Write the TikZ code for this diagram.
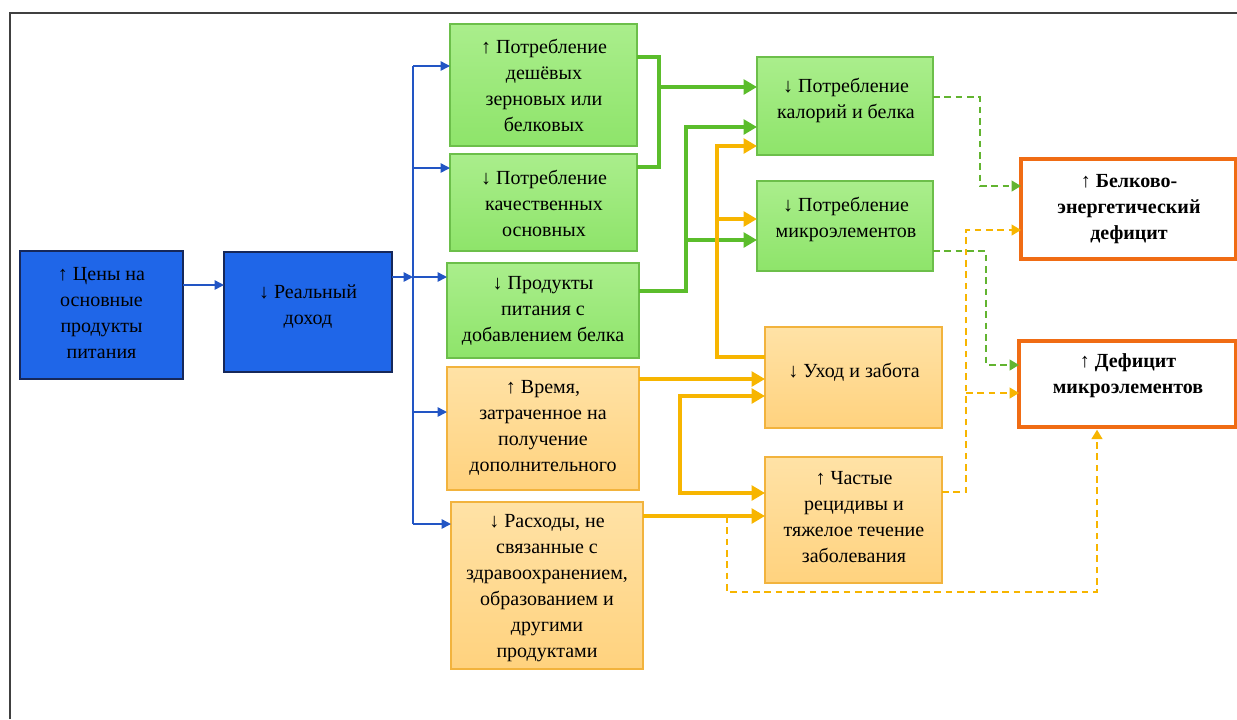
\documentclass[tikz,border=0pt]{standalone}
\usepackage{fontspec}
\setmainfont{Liberation Serif}
\newfontfamily\lserif{Liberation Serif}
\usetikzlibrary{arrows.meta,fit}
\definecolor{bfill}{HTML}{1F66E8}
\definecolor{bdraw}{HTML}{16285A}
\definecolor{bline}{HTML}{2255C4}
\definecolor{gtop}{HTML}{AAEE8C}
\definecolor{gbot}{HTML}{8EE46A}
\definecolor{gdraw}{HTML}{6CBF4A}
\definecolor{gline}{HTML}{5BBD2B}
\definecolor{otop}{HTML}{FFE2A6}
\definecolor{obot}{HTML}{FFD27E}
\definecolor{odraw}{HTML}{F2B33D}
\definecolor{oline}{HTML}{F7B500}
\definecolor{rdraw}{HTML}{F06C14}
\definecolor{gdash}{HTML}{62B430}
\tikzset{
  boxbase/.style={inner sep=0pt, outer sep=0pt},
  bluebox/.style={boxbase, draw=bdraw, line width=1.5pt, fill=bfill},
  greenbox/.style={boxbase, draw=gdraw, line width=0.8pt, top color=gtop, bottom color=gbot},
  orangebox/.style={boxbase, draw=odraw, line width=0.8pt, top color=otop, bottom color=obot},
  redbox/.style={boxbase, draw=rdraw, line width=3pt, fill=white},
  txt/.style={align=center, inner sep=0pt, font=\lserif\fontsize{15}{19.5}\selectfont},
  btxt/.style={txt, font=\lserif\fontsize{15}{19.5}\selectfont\bfseries},
  bluearrow/.style={draw=bline, line width=1.1pt, -{Triangle[length=7pt,width=7pt]}},
  bluebus/.style={draw=bline, line width=1.1pt},
  greenline/.style={draw=gline, line width=3.5pt},
  greenarrow/.style={greenline, -{Triangle[length=10pt,width=11pt]}},
  orangeline/.style={draw=oline, line width=3.5pt},
  orangearrow/.style={orangeline, -{Triangle[length=10pt,width=11pt]}},
  gdashed/.style={draw=gdash, line width=1.4pt, dash pattern=on 5pt off 3.5pt, -{Triangle[length=7pt,width=8pt]}},
  odashed/.style={draw=oline, line width=1.4pt, dash pattern=on 5pt off 3.5pt, -{Triangle[length=7pt,width=8pt]}},
}
\begin{document}
\begin{tikzpicture}[x=0.75pt, y=-0.75pt]
\useasboundingbox (0,0) rectangle (1237,719);
% frame
\coordinate (fbl) at (10,719);
\coordinate (ftl) at (10,13);
\coordinate (ftr) at (1237,13);
\draw[black!75, line width=0.9pt] (fbl) -- (ftl) -- (ftr);

% boxes
\node[bluebox, fit={(20,251) (183,379)}] (c1) {};
\node[bluebox, fit={(224,252) (392,372)}] (rd) {};
\node[greenbox, fit={(450,24) (637,146)}] (g1) {};
\node[greenbox, fit={(450,154) (637,251)}] (g2) {};
\node[greenbox, fit={(447,263) (639,358)}] (g3) {};
\node[orangebox, fit={(447,367) (639,490)}] (o4) {};
\node[orangebox, fit={(451,502) (643,669)}] (o5) {};
\node[greenbox, fit={(757,57) (933,155)}] (m1) {};
\node[greenbox, fit={(757,181) (933,271)}] (m2) {};
\node[orangebox, fit={(765,327) (942,428)}] (m3) {};
\node[orangebox, fit={(765,457) (942,583)}] (m4) {};
\node[redbox, fit={(1021,159) (1236,259)}] (r1) {};
\node[redbox, fit={(1019,341) (1236,427)}] (r2) {};

% texts
\node[txt] (tc1) at (101.5,313) {↑ Цены на\\основные\\продукты\\питания};
\node[txt] (trd) at (308,307) {↓ Реальный\\доход};
\node[txt] (tg1) at (544,85) {↑ Потребление\\дешёвых\\зерновых или\\белковых};
\node[txt] (tg2) at (544,203) {↓ Потребление\\качественных\\основных};
\node[txt] (tg3) at (543,311) {↓ Продукты\\питания с\\добавлением белка};
\node[txt] (to4) at (543,428) {↑ Время,\\затраченное на\\получение\\дополнительного};
\node[txt] (to5) at (547,588) {↓ Расходы, не\\связанные с\\здравоохранением,\\образованием и\\другими\\продуктами};
\node[txt] (tm1) at (846,100) {↓ Потребление\\калорий и белка};
\node[txt] (tm2) at (846,219) {↓ Потребление\\микроэлементов};
\node[txt] (tm3) at (854,372) {↓ Уход и забота};
\node[txt] (tm4) at (854,517) {↑ Частые\\рецидивы и\\тяжелое течение\\заболевания};
\node[btxt] (tr1) at (1129,209) {↑ Белково-\\энергетический\\дефицит};
\node[btxt] (tr2) at (1128,376) {↑ Дефицит\\микроэлементов};

% blue connectors
\coordinate (bustop) at (413,66);
\coordinate (busbot) at (413,524);
\coordinate (busmid) at (413,277);
\draw[bluearrow] (c1.east |- 0,285) -- (rd.west |- 0,285);
\draw[bluearrow] (rd.east |- busmid) -- (busmid);
\draw[bluebus] (bustop) -- (busbot);
\draw[bluearrow] (bustop) -- (g1.west |- bustop);
\draw[bluearrow] (413,168) -- (g2.west |- 0,168);
\draw[bluearrow] (busmid) -- (g3.west |- busmid);
\draw[bluearrow] (413,412) -- (o4.west |- 0,412);
\draw[bluearrow] (busbot) -- (o5.west |- busbot);

% green solid connectors
\coordinate (gj1) at (659,87);
\draw[greenline] (g1.east |- 0,57) -| (659,167) -- (g2.east |- 0,167);
\draw[greenarrow] (gj1) -- (m1.west |- gj1);
\coordinate (gj2) at (686,240);
\draw[greenarrow] (g3.east |- 0,291) -| (686,127) -- (m1.west |- 0,127);
\draw[greenarrow] (gj2) -- (m2.west |- gj2);

% orange solid connectors
\coordinate (oj1) at (717,219);
\draw[orangearrow] (m3.west |- 0,357) -| (717,146) -- (m1.west |- 0,146);
\draw[orangearrow] (oj1) -- (m2.west |- oj1);
\draw[orangearrow] (o4.east |- 0,379) -- (m3.west |- 0,379);
\draw[orangeline, {Triangle[length=10pt,width=11pt]}-{Triangle[length=10pt,width=11pt]}] (m3.west |- 0,396) -| (680,493) -- (m4.west |- 0,493);
\draw[orangearrow] (o5.east |- 0,516) -- (m4.west |- 0,516);

% dashed connectors
\coordinate (dj1) at (727,516);
\draw[odashed] (dj1) |- (1097,592) -- ([yshift=-2pt]r2.south -| 1097,0);
\coordinate (dj2) at (966,393);
\draw[odashed] (m4.east |- 0,492) -| (966,230) -- (r1.west |- 0,230);
\draw[odashed] (dj2) -- (r2.west |- dj2);
\draw[gdashed] (m1.east |- 0,97) -| (980,186) -- (r1.west |- 0,186);
\draw[gdashed] (m2.east |- 0,251) -| (986,365) -- (r2.west |- 0,365);
\end{tikzpicture}
\end{document}
